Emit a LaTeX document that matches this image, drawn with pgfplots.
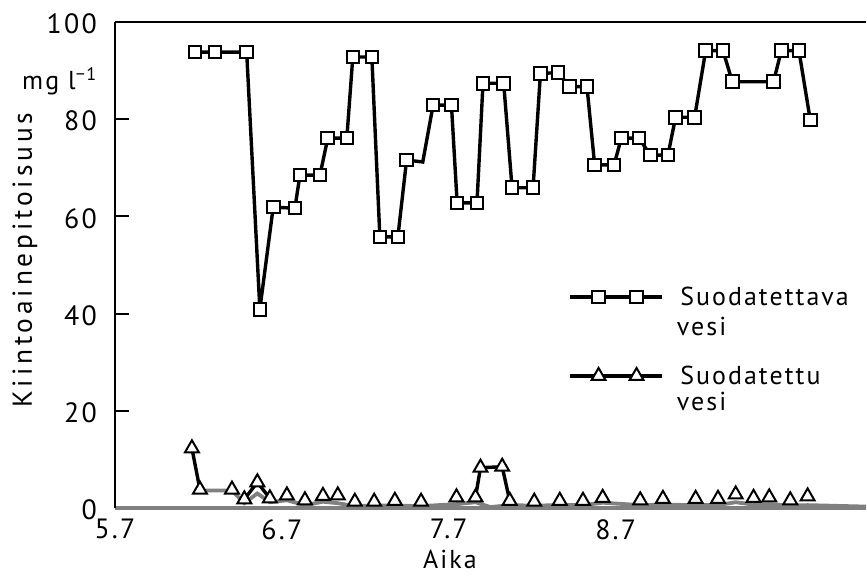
\documentclass[border=0pt]{standalone}
\usepackage{pgfplots}
\pgfplotsset{compat=1.18}
\usepackage{fontspec}
\setmainfont[LetterSpace=8]{PT Sans}
\newfontfamily\ylfont[LetterSpace=14]{PT Sans}

\pgfplotsset{mylegimg/.style={legend image code/.code={\draw[black,line width=3.4bp] (0bp,0bp)--(92bp,0bp); \draw[##1] plot coordinates {(29bp,0bp) (67bp,0bp)};}}}

\pgfplotstableread{
x y
6.179 93.8
6.299 93.8
6.489 93.8
6.568 40.9
6.648 61.9
6.778 61.7
6.808 68.5
6.928 68.5
6.975 76.1
7.089 76.1
7.125 92.8
7.239 92.8
7.287 55.8
7.395 55.8
7.447 71.6
7.544 71.2
7.606 82.9
7.716 82.9
7.750 62.8
7.869 62.8
7.905 87.4
8.029 87.4
8.079 65.9
8.205 65.9
8.249 89.4
8.354 89.6
8.425 86.7
8.528 86.7
8.574 70.6
8.690 70.6
8.734 76.1
8.840 76.1
8.908 72.6
9.013 72.6
9.059 80.4
9.173 80.4
9.239 94.1
9.343 94.1
9.399 87.7
9.646 87.7
9.692 94.1
9.798 94.1
9.866 79.8
}\sqline

\pgfplotstableread{
x y
6.179 93.8
6.299 93.8
6.489 93.8
6.568 40.9
6.648 61.9
6.778 61.7
6.808 68.5
6.928 68.5
6.975 76.1
7.089 76.1
7.125 92.8
7.239 92.8
7.287 55.8
7.395 55.8
7.447 71.6
7.606 82.9
7.716 82.9
7.750 62.8
7.869 62.8
7.905 87.4
8.029 87.4
8.079 65.9
8.205 65.9
8.249 89.4
8.354 89.6
8.425 86.7
8.528 86.7
8.574 70.6
8.690 70.6
8.734 76.1
8.840 76.1
8.908 72.6
9.013 72.6
9.059 80.4
9.173 80.4
9.239 94.1
9.343 94.1
9.399 87.7
9.646 87.7
9.692 94.1
9.798 94.1
9.866 79.8
}\sqmarks

\pgfplotstableread{
x y
6.161 12.3
6.209 3.8
6.401 3.8
6.475 1.8
6.553 5.3
6.628 2.0
6.730 2.6
6.838 1.6
6.946 2.5
7.035 2.6
7.137 1.3
7.253 1.3
7.377 1.5
7.534 1.3
7.746 2.2
7.860 2.2
7.890 8.3
8.020 8.5
8.065 1.5
8.212 1.3
8.365 1.5
8.504 1.5
8.622 2.1
8.847 1.6
8.983 1.9
9.179 1.9
9.313 1.9
9.419 2.8
9.526 2.1
9.620 2.2
9.746 1.6
9.850 2.4
}\trimarks

\pgfplotstableread{
x y
6.209 3.6
6.401 3.6
6.475 1.0
6.553 3.0
6.628 1.2
6.730 1.6
6.838 0.6
6.946 1.3
7.035 1.0
7.137 0.4
7.253 0.5
7.377 0.5
7.534 0.4
7.746 0.8
7.860 1.2
7.950 0.2
8.065 0.6
8.212 0.5
8.365 0.6
8.504 0.6
8.622 1.1
8.847 0.6
8.983 0.7
9.179 0.6
9.313 0.6
9.419 1.2
9.526 0.7
9.620 0.8
9.746 0.5
9.850 0.6
10.200 0.3
}\grayline

\begin{document}
\begin{tikzpicture}
\begin{axis}[
  width=751bp, height=486bp, scale only axis,
  xmin=5.7, xmax=10.2, ymin=0, ymax=100,
  clip=false,
  axis lines=left, axis line style={-},
  x axis line style={draw=black!50, line width=3.2bp},
  y axis line style={draw=black, line width=2bp},
  xtick={5.7,6.7,7.7,8.7},
  xticklabels={5.7,6.7,7.7,8.7},
  ytick={0,20,40,60,80,100},
  xtick style={draw=none},
  ytick style={draw=black, line width=2bp},
  tick align=inside,
  major tick length=14bp,
  tick label style={font=\fontsize{28}{32}\selectfont},
  /pgf/number format/assume math mode=true,
  yticklabel style={anchor=east, inner sep=0pt, xshift=-18bp, yshift=-2bp},
  xticklabel style={anchor=north, inner sep=0pt, yshift=-11bp},
  xlabel={Aika},
  xlabel style={at={(axis description cs:0.446,0)}, anchor=north, inner sep=0pt, yshift=-42bp, font=\fontsize{26}{30}\selectfont},
  ylabel={Kiintoainepitoisuus},
  ylabel style={at={(axis description cs:-0.12,0.51)}, anchor=center, inner sep=0pt, font=\fontsize{27.5}{30}\ylfont},
  legend style={at={(0.603,0.4547)}, anchor=north west, draw=none, fill=none, inner sep=0pt, outer sep=0pt,
    nodes={inner sep=0pt, font=\fontsize{26}{30}\selectfont}, row sep=59bp,
    /tikz/every odd column/.style={column sep=17bp}},
  legend cell align=left,
]
\addplot[black!50, line width=3.8bp, mark=none, forget plot] table {\grayline};
\addplot[black, line width=3.4bp, mark=none, forget plot] coordinates {(6.161,12.3) (6.209,3.8)};
\addplot[black, line width=3.4bp, mark=none, forget plot] coordinates {(6.475,1.8) (6.553,5.3) (6.628,2.0)};
\addplot[black, line width=3.4bp, mark=none, forget plot] coordinates {(7.860,2.2) (7.890,8.3) (8.020,8.5) (8.065,1.5)};
\addplot[black, line width=3.4bp, mark=none, forget plot] table {\sqline};

\addplot[only marks, mark=square*, mark size=6.3bp, mark options={fill=white, draw=black, line width=2bp}, mylegimg]
  table {\sqmarks};
\addlegendentry{Suodatettava}

\addplot[only marks, mark=triangle*, mark size=8bp, mark options={fill=white, draw=black, line width=2bp}, mylegimg]
  table {\trimarks};
\addlegendentry{Suodatettu}

\draw[black, line width=2bp] (rel axis cs:0,1) -- (rel axis cs:1,1);
\node[anchor=base east, inner sep=0pt, font=\fontsize{26}{30}\selectfont] at (rel axis cs:-0.024,0.862) {mg l\textsuperscript{−1}};
\node[anchor=base west, inner sep=0pt, font=\fontsize{26}{30}\selectfont] at (rel axis cs:0.748,0.356) {vesi};
\node[anchor=base west, inner sep=0pt, font=\fontsize{26}{30}\selectfont] at (rel axis cs:0.748,0.2016) {vesi};
\coordinate (bbll) at (rel axis cs:-0.1531,-0.1440);
\coordinate (bbur) at (rel axis cs:1.0013,1.0453);
\end{axis}
\pgfresetboundingbox
\path[use as bounding box] (bbll) rectangle (bbur);
\end{tikzpicture}
\end{document}
